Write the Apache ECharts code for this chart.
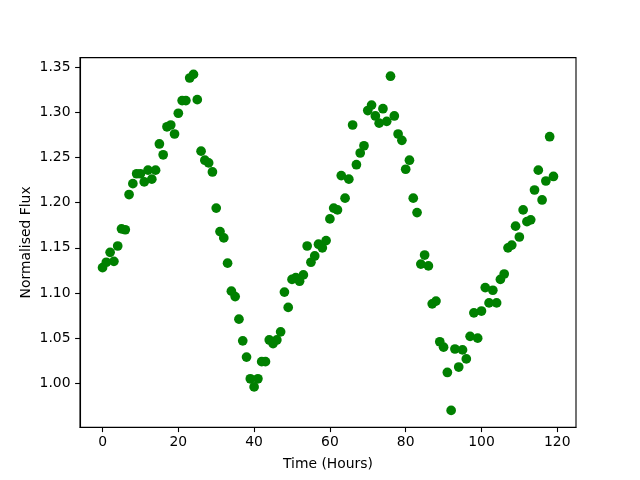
<!DOCTYPE html>
<html>
<head>
<meta charset="utf-8">
<script src="https://cdn.jsdelivr.net/npm/echarts@6/dist/echarts.min.js"></script>
<style>
html,body{margin:0;padding:0;background:#fff;}
#c{width:640px;height:480px;}
</style>
</head>
<body>
<div id="c"></div>
<script>
// Time in hours (one sample per hour)
const hours = [
  0,1,2,3,4,5,6,7,8,9,10,11,12,13,14,15,16,17,18,19,
  20,21,22,23,24,25,26,27,28,29,30,31,32,33,34,35,36,37,38,39,
  40,41,42,43,44,45,46,47,48,49,50,51,52,53,54,55,56,57,58,59,
  60,61,62,63,64,65,66,67,68,69,70,71,72,73,74,75,76,77,78,79,
  80,81,82,83,84,85,86,87,88,89,90,91,92,93,94,95,96,97,98,99,
  100,101,102,103,104,105,106,107,108,109,110,111,112,113,114,115,116,117,118,119
];
// Normalised flux values
const flux = [
  1.128,1.134,1.145,1.135,1.152,1.171,1.170,1.209,1.221,1.232,1.232,1.223,1.236,1.226,1.236,1.265,1.253,1.284,1.286,1.276,
  1.299,1.313,1.313,1.338,1.342,1.314,1.257,1.247,1.244,1.234,1.194,1.168,1.161,1.133,1.102,1.096,1.071,1.047,1.029,1.005,
  0.996,1.005,1.024,1.024,1.048,1.044,1.048,1.057,1.101,1.084,1.115,1.117,1.113,1.120,1.152,1.134,1.141,1.154,1.150,1.158,
  1.182,1.194,1.192,1.230,1.205,1.226,1.286,1.242,1.255,1.263,1.302,1.308,1.296,1.288,1.304,1.290,1.340,1.296,1.276,1.269,
  1.237,1.247,1.205,1.189,1.132,1.142,1.130,1.088,1.091,1.046,1.040,1.012,0.970,1.038,1.018,1.037,1.027,1.052,1.078,1.050,
  1.080,1.106,1.089,1.103,1.089,1.115,1.121,1.150,1.153,1.174,1.162,1.192,1.179,1.181,1.214,1.236,1.203,1.224,1.273,1.229
];
const xTicks = [0,20,40,60,80,100,120];
const yTicks = [1.00,1.05,1.10,1.15,1.20,1.25,1.30,1.35];

const points = hours.map((h,i)=>[h, flux[i]]);
const xMin = Math.min(...hours), xMax = Math.max(...hours);
const yMin = Math.min(...flux), yMax = Math.max(...flux);
const xPad = (xMax-xMin)*0.05, yPad = (yMax-yMin)*0.05;

const font = 'DejaVu Sans';
const chart = echarts.init(document.getElementById('c'), null, {renderer:'canvas'});
chart.setOption({
  animation:false,
  backgroundColor:'#fff',
  grid:{left:80,right:64,top:57.6,bottom:52.8,show:true,borderColor:'#000',borderWidth:1.1,backgroundColor:'transparent'},
  xAxis:{
    type:'value', min:xMin-xPad, max:xMax+xPad,
    name:'Time (Hours)', nameLocation:'middle', nameGap:30, nameMoveOverlap:false,
    nameTextStyle:{fontFamily:font,fontSize:13.9,color:'#000'},
    axisLine:{show:true,onZero:false,lineStyle:{color:'#000',width:1.1}},
    axisTick:{show:true,inside:false,length:4.9,lineStyle:{color:'#000',width:1.1},customValues:xTicks},
    axisLabel:{show:true,margin:8,fontFamily:font,fontSize:13.9,color:'#000',customValues:xTicks,formatter:v=>String(v)},
    splitLine:{show:false}
  },
  yAxis:{
    type:'value', min:yMin-yPad, max:yMax+yPad,
    name:'Normalised Flux', nameLocation:'middle', nameGap:47, nameRotate:90, nameMoveOverlap:false,
    nameTextStyle:{fontFamily:font,fontSize:13.9,color:'#000'},
    axisLine:{show:true,onZero:false,lineStyle:{color:'#000',width:1.1}},
    axisTick:{show:true,inside:false,length:4.9,lineStyle:{color:'#000',width:1.1},customValues:yTicks},
    axisLabel:{show:true,margin:9.5,fontFamily:font,fontSize:13.9,color:'#000',customValues:yTicks,formatter:v=>v.toFixed(2)},
    splitLine:{show:false}
  },
  series:[{
    type:'scatter',
    data:points,
    symbol:'circle',
    symbolSize:9.7,
    itemStyle:{color:'#008000',opacity:1},
    clip:false
  }]
});
</script>
</body>
</html>
